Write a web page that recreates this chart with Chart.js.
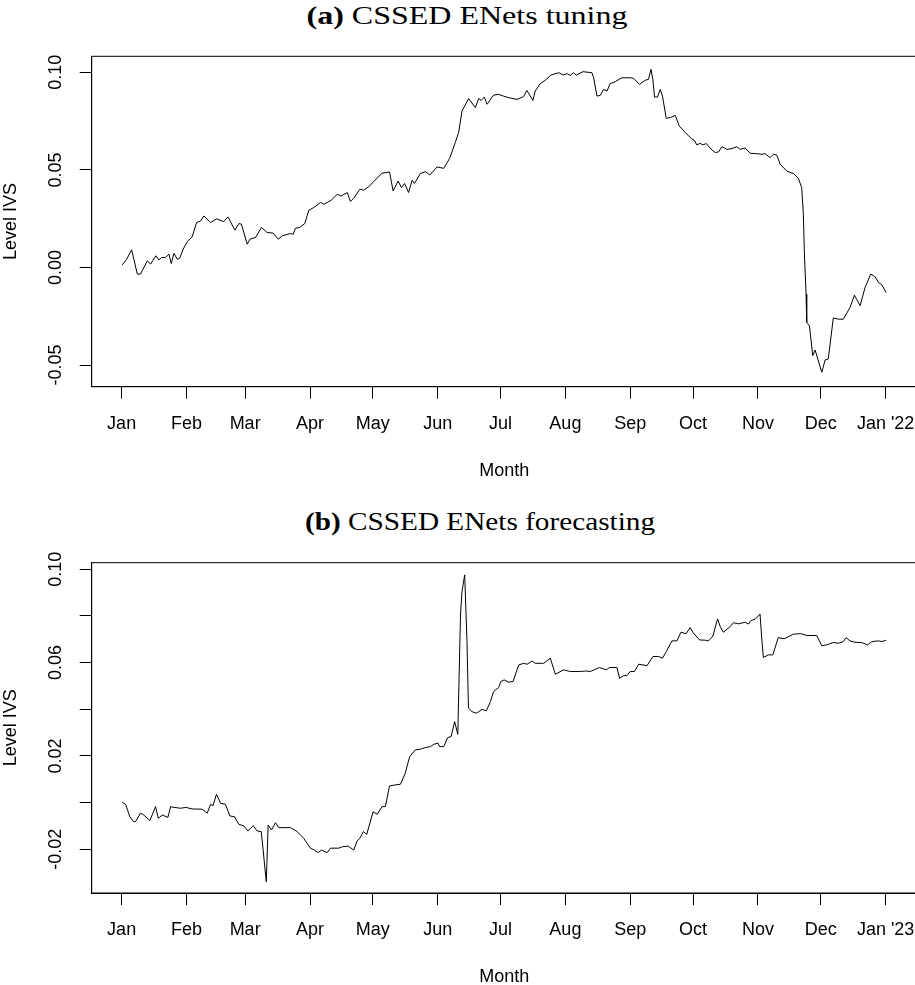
<!DOCTYPE html>
<html>
<head>
<meta charset="utf-8">
<script src="https://cdn.jsdelivr.net/npm/chart.js@4.4.0/dist/chart.umd.min.js"></script>
<style>
  html, body { margin: 0; padding: 0; background: #fff; overflow: hidden; width: 915px; height: 985px; }
  .cap { position: absolute; text-align: center; font-family: "Liberation Serif", serif; font-size: 25px; line-height: 32px; color: #000; transform-origin: 50% 50%; }
  canvas { position: absolute; left: 0; }
</style>
</head>
<body>
<div class="cap" style="top:0px; left:19px; width:896px; transform:scaleX(1.28);"><b>(a)</b> CSSED ENets tuning</div>
<canvas id="tuning" width="930" height="490" style="top:0px;"></canvas>
<div class="cap" style="top:506px; left:45px; width:870px; transform:scaleX(1.17);"><b>(b)</b> CSSED ENets forecasting</div>
<canvas id="forecast" width="930" height="500" style="top:505px;"></canvas>
<script>
// month ticks, days since Jan 1
var monthDays = [0, 31, 59, 90, 120, 151, 181, 212, 243, 273, 304, 334, 365];
var monthsTuning = ['Jan', 'Feb', 'Mar', 'Apr', 'May', 'Jun', 'Jul', 'Aug', 'Sep', 'Oct', 'Nov', 'Dec', "Jan '22"];
var monthsForecast = ['Jan', 'Feb', 'Mar', 'Apr', 'May', 'Jun', 'Jul', 'Aug', 'Sep', 'Oct', 'Nov', 'Dec', "Jan '23"];

// (a) tuning, 2021
var tuningDays = [0.3, 2.4, 4.8, 7.5, 9.0, 12.3, 13.8, 16.4, 17.8, 19.1, 21.0, 22.6, 23.7, 25.0, 26.6, 27.8, 29.4, 31.4, 33.7, 35.8,
  37.7, 39.3, 42.5, 45.4, 48.8, 50.8, 54.1, 56.0, 57.2, 60.0, 61.3, 64.0, 66.8, 69.5, 72.4, 74.8, 76.7, 80.7, 82.0, 83.0,
  85.1, 87.5, 89.4, 91.8, 95.0, 96.6, 100.1, 103.0, 104.9, 107.8, 109.3, 110.9, 113.8, 115.7, 118.5, 120.4, 124.4, 128.0, 129.7, 132.1,
  133.7, 135.2, 137.1, 138.8, 139.9, 142.7, 145.1, 147.2, 150.7, 153.9, 156.7, 159.4, 161.0, 162.6, 165.8, 169.0, 170.6, 171.8, 173.3, 174.6,
  177.7, 180.1, 182.5, 184.9, 188.9, 192.0, 193.6, 196.5, 197.6, 200.0, 202.4, 205.1, 208.8, 211.1, 212.8, 214.3, 215.9, 217.2, 220.4, 224.7,
  225.5, 227.1, 228.7, 230.2, 231.9, 233.4, 235.8, 239.0, 243.0, 244.6, 247.4, 250.1, 251.7, 252.9, 253.8, 254.6, 256.0, 257.3, 258.4, 260.2,
  262.1, 264.5, 266.4, 269.3, 272.5, 273.6, 274.8, 276.4, 277.7, 279.3, 282.0, 283.6, 285.2, 286.8, 289.2, 291.6, 293.9, 295.5, 297.9, 300.3,
  303.5, 305.9, 307.4, 309.8, 311.4, 313.0, 314.6, 317.8, 321.0, 323.3, 324.9, 325.7, 326.2, 327.0, 327.3, 328.6, 330.2, 331.3, 334.5, 336.1,
  337.6, 340.0, 342.4, 344.8, 348.0, 350.1, 352.8, 355.2, 357.9, 360.0, 361.6, 363.2, 365.2];
var tuningLevel = [0.0013, 0.0042, 0.0090, -0.0034, -0.0034, 0.0034, 0.0017, 0.0060, 0.0039, 0.0051, 0.0051, 0.0068, 0.0020, 0.0072, 0.0042, 0.0048, 0.0094, 0.0133, 0.0157, 0.0230,
  0.0238, 0.0264, 0.0230, 0.0249, 0.0235, 0.0259, 0.0191, 0.0225, 0.0222, 0.0119, 0.0145, 0.0154, 0.0205, 0.0179, 0.0176, 0.0145, 0.0162, 0.0174, 0.0170, 0.0201,
  0.0205, 0.0225, 0.0293, 0.0307, 0.0333, 0.0324, 0.0344, 0.0375, 0.0366, 0.0384, 0.0338, 0.0355, 0.0401, 0.0396, 0.0418, 0.0440, 0.0483, 0.0489, 0.0392, 0.0443,
  0.0409, 0.0430, 0.0384, 0.0447, 0.0430, 0.0481, 0.0491, 0.0474, 0.0515, 0.0508, 0.0559, 0.0640, 0.0691, 0.0801, 0.0866, 0.0819, 0.0866, 0.0856, 0.0873, 0.0836,
  0.0883, 0.0887, 0.0878, 0.0870, 0.0861, 0.0875, 0.0907, 0.0856, 0.0904, 0.0942, 0.0959, 0.0986, 0.0998, 0.0986, 0.0993, 0.0984, 0.0998, 0.0986, 0.1003, 0.0998,
  0.0972, 0.0878, 0.0882, 0.0912, 0.0904, 0.0942, 0.0952, 0.0972, 0.0972, 0.0969, 0.0938, 0.0959, 0.0964, 0.1015, 0.0964, 0.0873, 0.0873, 0.0912, 0.0878, 0.0764,
  0.0768, 0.0779, 0.0725, 0.0691, 0.0657, 0.0652, 0.0628, 0.0636, 0.0628, 0.0635, 0.0602, 0.0589, 0.0592, 0.0619, 0.0605, 0.0609, 0.0619, 0.0605, 0.0612, 0.0585,
  0.0583, 0.0580, 0.0583, 0.0563, 0.0580, 0.0576, 0.0529, 0.0494, 0.0481, 0.0457, 0.0409, 0.0273, 0.0068, -0.0137, -0.0281, -0.0299, -0.0452, -0.0423, -0.0537, -0.0474,
  -0.0469, -0.0259, -0.0265, -0.0265, -0.0205, -0.0142, -0.0196, -0.0102, -0.0034, -0.0048, -0.0077, -0.0089, -0.0128];
var tuningYTicks = [-0.05, 0, 0.05, 0.10];
var tuningYLabels = ['-0.05', '0.00', '0.05', '0.10'];

// (b) forecasting, 2022
var forecastDays = [0.3, 1.9, 3.9, 5.6, 6.7, 9.0, 10.6, 13.5, 16.2, 17.5, 19.4, 22.1, 23.4, 25.0, 28.2, 30.6, 33.7, 38.5, 40.9, 42.5,
  43.7, 45.3, 47.3, 49.6, 51.7, 53.9, 56.0, 58.4, 60.3, 62.9, 64.7, 66.7, 67.6, 69.1, 70.0, 71.6, 73.5, 75.1, 80.7, 83.9,
  87.0, 90.2, 92.1, 93.9, 95.5, 98.2, 99.8, 103.7, 105.4, 108.2, 110.9, 112.5, 113.8, 115.5, 117.1, 120.1, 122.1, 124.4, 126.0, 128.0,
  130.8, 133.2, 135.5, 137.6, 140.3, 142.7, 145.1, 147.5, 149.1, 151.2, 151.9, 153.9, 155.8, 157.4, 159.1, 160.6, 161.9, 162.6, 163.9, 165.0,
  165.7, 167.4, 169.5, 172.2, 174.2, 176.2, 177.7, 180.1, 181.2, 182.8, 184.9, 187.0, 189.7, 192.1, 193.7, 196.1, 197.6, 201.6, 204.8, 207.2,
  211.1, 214.3, 219.1, 221.5, 223.9, 228.3, 231.5, 233.1, 236.6, 237.9, 239.8, 241.4, 243.0, 245.0, 247.0, 251.0, 253.8, 256.5, 258.4, 260.2,
  262.9, 265.3, 267.2, 269.7, 271.6, 273.2, 276.1, 278.8, 280.4, 282.5, 284.7, 286.0, 287.5, 290.7, 292.3, 294.7, 297.9, 299.5, 300.6, 302.7,
  305.0, 305.8, 306.6, 309.0, 311.1, 313.7, 316.5, 321.0, 324.5, 327.3, 332.1, 334.5, 336.9, 340.0, 342.4, 344.8, 346.1, 348.0, 350.4, 353.6,
  356.3, 358.4, 361.6, 363.2, 365.2];
var forecastLevel = [0.0002, -0.0007, -0.0060, -0.0081, -0.0081, -0.0045, -0.0053, -0.0077, -0.0017, -0.0067, -0.0053, -0.0063, -0.0017, -0.0020, -0.0024, -0.0020, -0.0027, -0.0028, -0.0045, -0.0007,
  -0.0013, 0.0036, -0.0003, -0.0007, -0.0057, -0.0060, -0.0093, -0.0100, -0.0121, -0.0099, -0.0121, -0.0124, -0.0203, -0.0339, -0.0096, -0.0117, -0.0086, -0.0107, -0.0107, -0.0124,
  -0.0153, -0.0195, -0.0203, -0.0214, -0.0203, -0.0214, -0.0195, -0.0195, -0.0189, -0.0186, -0.0203, -0.0164, -0.0153, -0.0124, -0.0136, -0.0039, -0.0050, -0.0017, -0.0017, 0.0072,
  0.0076, 0.0079, 0.0126, 0.0197, 0.0226, 0.0229, 0.0236, 0.0240, 0.0250, 0.0255, 0.0240, 0.0240, 0.0279, 0.0283, 0.0347, 0.0293, 0.0804, 0.0904, 0.0976, 0.0690,
  0.0405, 0.0390, 0.0383, 0.0400, 0.0393, 0.0433, 0.0476, 0.0493, 0.0519, 0.0526, 0.0516, 0.0519, 0.0590, 0.0597, 0.0593, 0.0607, 0.0597, 0.0597, 0.0619, 0.0550,
  0.0569, 0.0562, 0.0562, 0.0564, 0.0562, 0.0579, 0.0569, 0.0579, 0.0579, 0.0533, 0.0544, 0.0544, 0.0562, 0.0562, 0.0593, 0.0587, 0.0626, 0.0626, 0.0619, 0.0647,
  0.0693, 0.0693, 0.0730, 0.0724, 0.0750, 0.0726, 0.0697, 0.0696, 0.0693, 0.0714, 0.0787, 0.0754, 0.0730, 0.0754, 0.0771, 0.0766, 0.0773, 0.0765, 0.0780, 0.0786,
  0.0808, 0.0705, 0.0622, 0.0633, 0.0633, 0.0707, 0.0702, 0.0722, 0.0724, 0.0716, 0.0716, 0.0672, 0.0676, 0.0686, 0.0683, 0.0690, 0.0707, 0.0693, 0.0687, 0.0686,
  0.0676, 0.0690, 0.0693, 0.0690, 0.0696];
var forecastYTicks = [-0.02, 0, 0.02, 0.04, 0.06, 0.08, 0.10];
var forecastYLabels = ['-0.02', '', '0.02', '', '0.06', '', '0.10'];

var axisFont = { family: '"Liberation Sans", Arial, sans-serif', size: 18 };

// R style box round the plot region
var boxPlugin = {
  id: 'box',
  afterDraw: function(chart) {
    var a = chart.chartArea;
    var ctx = chart.ctx;
    ctx.save();
    ctx.strokeStyle = '#000';
    ctx.lineWidth = 1;
    ctx.strokeRect(a.left, a.top, a.right - a.left, a.bottom - a.top);
    ctx.restore();
  }
};

function makeChart(id, days, level, months, yMin, yMax, yTicks, yLabels, padTop, padBottom) {
  var points = days.map(function(d, i) { return { x: d, y: level[i] }; });
  return new Chart(document.getElementById(id), {
    type: 'line',
    data: {
      datasets: [{
        data: points,
        borderColor: '#000',
        borderWidth: 1,
        pointRadius: 0,
        tension: 0,
        fill: false
      }]
    },
    options: {
      responsive: false,
      animation: false,
      devicePixelRatio: 1,
      layout: { padding: { top: padTop, left: 0, right: 13.4, bottom: padBottom } },
      plugins: { legend: { display: false }, tooltip: { enabled: false } },
      scales: {
        x: {
          type: 'linear',
          min: -14.3,
          max: 379.8,
          afterBuildTicks: function(scale) {
            scale.ticks = monthDays.map(function(v) { return { value: v }; });
          },
          afterFit: function(scale) { scale.height = 100; },
          grid: { display: true, drawOnChartArea: false, drawTicks: true, tickLength: 12, color: '#000', lineWidth: 1 },
          border: { display: true, color: '#000' },
          ticks: {
            autoSkip: false,
            maxRotation: 0,
            padding: 14.5,
            color: '#000',
            font: axisFont,
            callback: function(v, i) { return months[i]; }
          },
          title: { display: true, text: 'Month', color: '#000', font: axisFont, padding: { top: 0, bottom: 5 } }
        },
        y: {
          min: yMin,
          max: yMax,
          afterBuildTicks: function(scale) {
            scale.ticks = yTicks.map(function(v) { return { value: v }; });
          },
          afterFit: function(scale) { scale.width = 91.7; },
          grid: { display: true, drawOnChartArea: false, drawTicks: true, tickLength: 12, color: '#000', lineWidth: 1 },
          border: { display: true, color: '#000' },
          ticks: {
            autoSkip: false,
            minRotation: 90,
            maxRotation: 90,
            crossAlign: 'center',
            padding: 3.4,
            color: '#000',
            font: axisFont,
            callback: function(v, i) { return yLabels[i]; }
          },
          title: { display: true, text: 'Level IVS', color: '#000', font: axisFont, padding: { top: 0, bottom: 0 } }
        }
      }
    },
    plugins: [boxPlugin]
  });
}

makeChart('tuning', tuningDays, tuningLevel, monthsTuning, -0.0611, 0.1082, tuningYTicks, tuningYLabels, 56.3, 3.3);
makeChart('forecast', forecastDays, forecastLevel, monthsForecast, -0.0387, 0.1028, forecastYTicks, forecastYLabels, 57.7, 12);
</script>
</body>
</html>
